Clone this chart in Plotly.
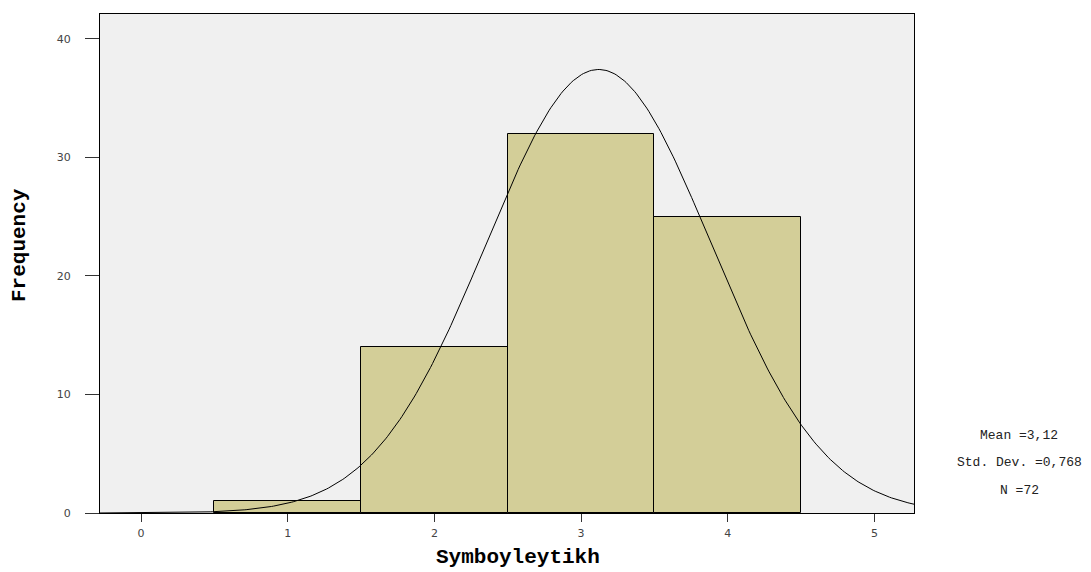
import numpy as np
import plotly.graph_objects as go

# Data
bin_centers = [1, 2, 3, 4]
frequencies = [1, 14, 32, 25]
bin_width = 1.0
mean_val = 3.12
std_val = 0.768
n_val = 72
x_ticks = [0, 1, 2, 3, 4, 5]
y_ticks = [0, 10, 20, 30, 40]
x_title = "Symboyleytikh"
y_title = "Frequency"
stats_text = ["Mean =3,12", "Std. Dev. =0,768", "N =72"]

x_range = [-0.28, 5.27]
y_range = [0, 42.08]

# Fitted normal curve from summary statistics
xc = np.linspace(x_range[0], x_range[1], 400)
yc = n_val * bin_width * np.exp(-0.5 * ((xc - mean_val) / std_val) ** 2) / (std_val * np.sqrt(2 * np.pi))

fig = go.Figure()
fig.add_trace(go.Bar(
    x=bin_centers, y=frequencies, width=bin_width,
    marker=dict(color="#d3ce98", line=dict(color="black", width=1)),
    showlegend=False, hoverinfo="x+y",
))
fig.add_trace(go.Scatter(
    x=xc, y=yc, mode="lines", line=dict(color="black", width=1),
    showlegend=False, hoverinfo="skip",
))

mono = "Liberation Mono, Courier New, monospace"
fig.update_layout(
    width=1091, height=572,
    margin=dict(l=100, r=177, t=14, b=59),
    paper_bgcolor="white", plot_bgcolor="#f0f0f0",
    bargap=0,
    font=dict(family="DejaVu Sans", size=11, color="#333333"),
    xaxis=dict(
        range=x_range, tickvals=x_ticks, ticktext=[str(v) for v in x_ticks],
        ticks="outside", ticklen=8, tickcolor="#333333", tickwidth=1,
        showgrid=False, zeroline=False,
        showline=True, linecolor="black", linewidth=1, mirror=True,
        tickfont=dict(family="DejaVu Sans", size=11, color="#444444"),
        ticklabelstandoff=2,
    ),
    yaxis=dict(
        range=y_range, tickvals=y_ticks, ticktext=[str(v) for v in y_ticks],
        ticks="outside", ticklen=14, tickcolor="#333333", tickwidth=1,
        showgrid=False, zeroline=False,
        showline=True, linecolor="black", linewidth=1, mirror=True,
        tickfont=dict(family="DejaVu Sans", size=11, color="#444444"),
        ticklabelstandoff=12,
    ),
)

# Axis titles
fig.add_annotation(text=f"<b>{x_title}</b>", xref="paper", yref="paper",
                   x=0.513, y=-0.089, xanchor="center", yanchor="middle",
                   showarrow=False, font=dict(family=mono, size=21, color="black"))
fig.add_annotation(text=f"<b>{y_title}</b>", xref="paper", yref="paper",
                   x=-0.098, y=0.5375, xanchor="center", yanchor="middle",
                   textangle=-90, showarrow=False,
                   font=dict(family=mono, size=21, color="black"))

# Stats
for txt, yp in zip(stats_text, [0.156, 0.102, 0.046]):
    fig.add_annotation(text=txt, xref="paper", yref="paper",
                       x=1.129, y=yp, xanchor="center", yanchor="middle",
                       showarrow=False, font=dict(family=mono, size=13, color="#222222"))

fig.write_html("out.html", config={"displayModeBar": False},
               post_script="document.body.style.margin='0';document.body.style.overflow='hidden';")
